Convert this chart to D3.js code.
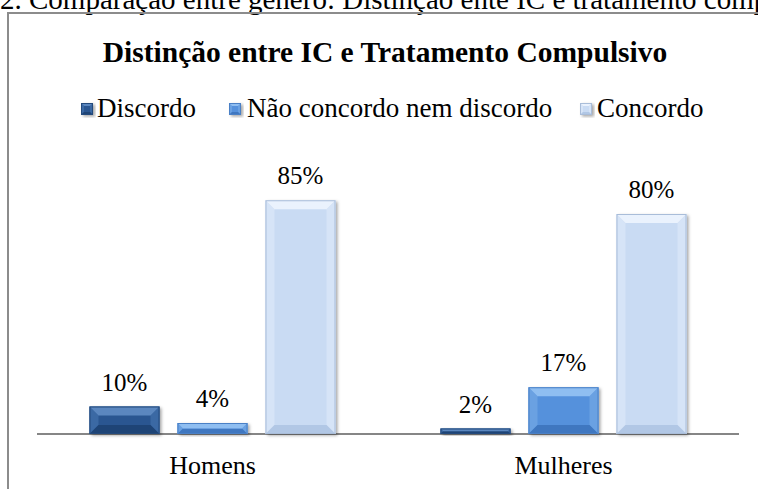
<!DOCTYPE html>
<meta charset="UTF-8">
<style>
    body { margin: 0; background: #fff; overflow: hidden; }
    svg text { font-family: "Times New Roman", "Liberation Serif", Tinos, Times, serif; fill: #000; }
    .lbl { font-size: 25px; }
    .frame { fill: none; stroke: #8c8c8c; stroke-width: 2px; }
    .axis { stroke: #868686; stroke-width: 2px; }
</style>
<body>
<script src="https://d3js.org/d3.v7.min.js"></script>
<script>

// data
var categories = ["Homens", "Mulheres"];
var series = ["Discordo", "Não concordo nem discordo", "Concordo"];
var homens = [0.10, 0.04, 0.85];
var mulheres = [0.02, 0.17, 0.80];
var valueLabels = [["10%", "4%", "85%"], ["2%", "17%", "80%"]];

// bevel colours per series: main, top, side, bottom, outline
var palette = [
  {main: "#2b5791", top: "#5b87bf", side: "#3b69a4", bot: "#1e4476", line: "#244a7c"},
  {main: "#5591dc", top: "#8fbef1", side: "#6aa1e2", bot: "#3f77c0", line: "#4a80c6"},
  {main: "#c9dbf3", top: "#eaf2fd", side: "#d6e4f7", bot: "#b1c7e5", line: "#a9bdd9"}
];

var W = 758, H = 489;
var svg = d3.select("body").append("svg")
    .attr("width", W)
    .attr("height", H);

var defs = svg.append("defs");
var f = defs.append("filter").attr("id", "shadow")
    .attr("x", "-20%").attr("y", "-20%").attr("width", "140%").attr("height", "140%");
f.append("feDropShadow").attr("dx", 2).attr("dy", 1.5).attr("stdDeviation", 1.5)
    .attr("flood-color", "#000").attr("flood-opacity", 0.35);

// document text above the chart (cut off by the page edges, as in the source)
svg.append("text")
    .attr("x", 0).attr("y", 9)
    .style("font-size", "29px")
    .text("2. Comparação entre género: Distinção ente IC e tratamento compulsivo");

// chart frame
svg.append("rect").attr("class", "frame")
    .attr("x", 8).attr("y", 13).attr("width", 820).attr("height", 600);

// title
svg.append("text")
    .attr("x", 385).attr("y", 62)
    .attr("text-anchor", "middle")
    .style("font-size", "29.5px").style("font-weight", "bold")
    .text("Distinção entre IC e Tratamento Compulsivo");

// scales
var y = d3.scaleLinear().domain([0, 1]).range([434, 159]);
var x0 = d3.scaleBand().domain(categories).range([37, 739]);
var x1 = d3.scaleBand().domain(series).range([0, 246]).paddingInner(18 / 88);
var groupOffset = (x0.bandwidth() - 246) / 2;

function bevelBar(g, x, yTop, w, h, c, b) {
  b = Math.min(b, h / 2, w / 2);
  var x2 = x + w, y2 = yTop + h;
  g.append("rect").attr("x", x).attr("y", yTop).attr("width", w).attr("height", h)
    .attr("fill", c.main).attr("filter", "url(#shadow)");
  g.append("polygon").attr("fill", c.side)
    .attr("points", [[x, yTop], [x + b, yTop + b], [x + b, y2 - b], [x, y2]].join(" "));
  g.append("polygon").attr("fill", c.side)
    .attr("points", [[x2, yTop], [x2 - b, yTop + b], [x2 - b, y2 - b], [x2, y2]].join(" "));
  g.append("polygon").attr("fill", c.bot)
    .attr("points", [[x, y2], [x + b, y2 - b], [x2 - b, y2 - b], [x2, y2]].join(" "));
  g.append("polygon").attr("fill", c.top)
    .attr("points", [[x, yTop], [x + b, yTop + b], [x2 - b, yTop + b], [x2, yTop]].join(" "));
  g.append("rect").attr("x", x + 0.5).attr("y", yTop + 0.5)
    .attr("width", Math.max(w - 1, 0)).attr("height", Math.max(h - 1, 0))
    .attr("fill", "none").attr("stroke", c.line).attr("stroke-width", 1);
}

// legend
var legendItems = [
  {sx: 81, tx: 97},
  {sx: 229, tx: 247},
  {sx: 580, tx: 597}
];
var legend = svg.append("g");
series.forEach(function(s, i) {
  var g = legend.append("g");
  bevelBar(g, legendItems[i].sx, 103, 12, 12, palette[i], 3);
  g.append("text")
    .attr("x", legendItems[i].tx).attr("y", 117)
    .style("font-size", "27px")
    .text(s);
});

// axis baseline
svg.append("line").attr("class", "axis")
    .attr("x1", x0.range()[0]).attr("x2", x0.range()[1])
    .attr("y1", y(0)).attr("y2", y(0));

// bars
var allValues = [homens, mulheres];
categories.forEach(function(cat, ci) {
  var g = svg.append("g");
  series.forEach(function(s, si) {
    var v = allValues[ci][si];
    var bx = x0(cat) + groupOffset + x1(s);
    var top = y(v);
    bevelBar(g, bx, top, x1.bandwidth(), y(0) - top, palette[si], 9);
    g.append("text").attr("class", "lbl")
      .attr("x", bx + x1.bandwidth() / 2)
      .attr("y", top - 16)
      .attr("text-anchor", "middle")
      .text(valueLabels[ci][si]);
  });
  svg.append("text").attr("class", "lbl")
    .attr("x", x0(cat) + x0.bandwidth() / 2)
    .attr("y", 474)
    .attr("text-anchor", "middle")
    .style("font-size", "26px")
    .text(cat);
});

</script>
</body>
